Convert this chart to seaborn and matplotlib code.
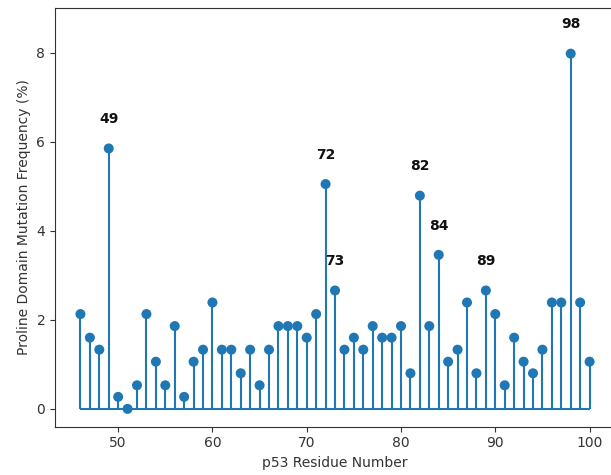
import matplotlib
matplotlib.use("Agg")
import matplotlib.pyplot as plt
import seaborn as sns
import pandas as pd

residues = list(range(46, 101))
frequency = [
    2.13, 1.60, 1.33, 5.85, 0.27, 0.00, 0.53, 2.13, 1.06, 0.53,  # 46-55
    1.86, 0.27, 1.06, 1.33, 2.39, 1.33, 1.33, 0.80, 1.33, 0.53,  # 56-65
    1.33, 1.86, 1.86, 1.86, 1.60, 2.13, 5.05, 2.66, 1.33, 1.60,  # 66-75
    1.33, 1.86, 1.60, 1.60, 1.86, 0.80, 4.79, 1.86, 3.46, 1.06,  # 76-85
    1.33, 2.39, 0.80, 2.66, 2.13, 0.53, 1.60, 1.06, 0.80, 1.33,  # 86-95
    2.39, 2.39, 7.98, 2.39, 1.06,                                # 96-100
]
highlight = [49, 72, 73, 82, 84, 89, 98]

df = pd.DataFrame({"residue": residues, "freq": frequency})

sns.set_style("ticks")
plt.rcParams['font.family'] = ['DejaVu Sans']

fig = plt.figure(figsize=(6.11, 4.75), dpi=100)
ax = fig.add_axes([0.090, 0.1017, 0.9166, 0.881])

color = "#1f77b4"
ax.vlines(df["residue"], 0, df["freq"], color=color, linewidth=1.5, zorder=2)
ax.hlines(0, min(residues), max(residues), color=color, linewidth=1.5, zorder=2)
sns.scatterplot(data=df, x="residue", y="freq", ax=ax, color=color, s=52,
                edgecolor="none", zorder=3, legend=False)

for r in highlight:
    y = frequency[residues.index(r)]
    ax.text(r, y + 0.5, str(r), ha="center", va="bottom",
            fontweight="bold", fontsize=10, color="#111111")

ax.set_xlim(43.3, 102.7)
ax.set_ylim(-0.4, 9.0)
ax.set_xticks([50, 60, 70, 80, 90, 100])
ax.set_yticks([0, 2, 4, 6, 8])
ax.set_xlabel("p53 Residue Number", fontsize=10, color="#333333")
ax.set_ylabel("Proline Domain Mutation Frequency (%)", fontsize=10, color="#333333")
ax.tick_params(labelsize=10, colors="#333333", length=3.5, width=0.8)
for s in ax.spines.values():
    s.set_visible(True)
    s.set_color("#333333")
    s.set_linewidth(0.8)

fig.savefig("out.png", dpi=100)
